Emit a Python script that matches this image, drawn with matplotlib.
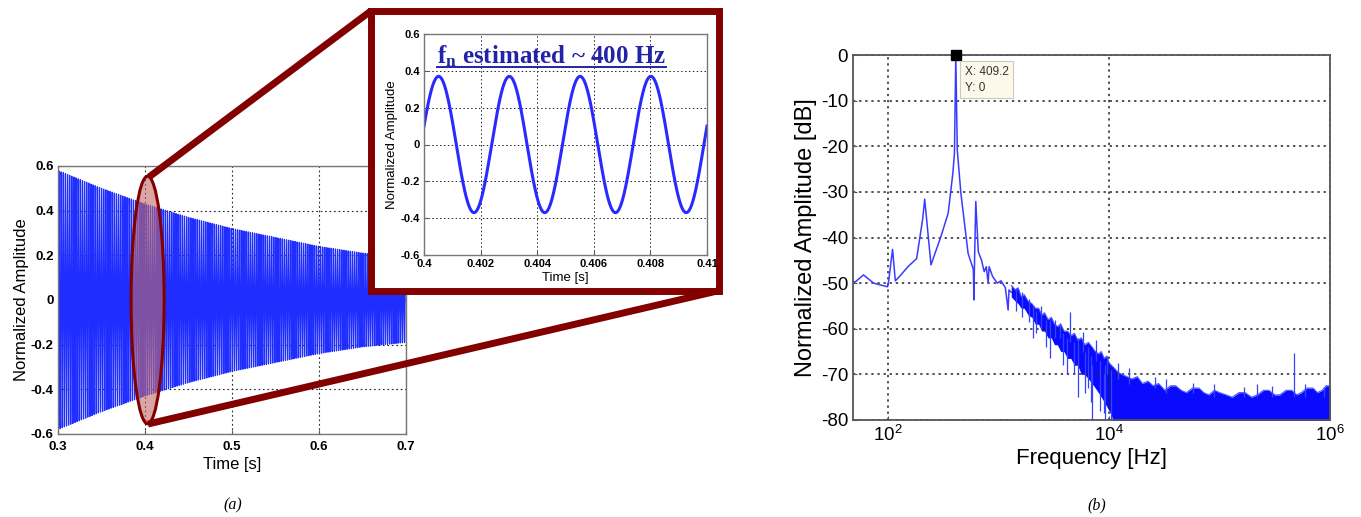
import matplotlib
matplotlib.use('agg')
import matplotlib.pyplot as plt
from matplotlib.patches import Ellipse, Rectangle
import numpy as np

plt.rcParams['font.family'] = ['Liberation Sans', 'DejaVu Sans']
plt.rcParams['mathtext.fontset'] = 'custom'
plt.rcParams['mathtext.rm'] = 'Liberation Sans'
plt.rcParams['mathtext.bf'] = 'Liberation Serif:bold'
plt.rcParams['mathtext.default'] = 'regular'
plt.rcParams['axes.unicode_minus'] = False

# ---- data ----
# (a) decaying free oscillation: envelope of the band and its frequency
env_t = [0.30, 0.35, 0.40, 0.45, 0.50, 0.55, 0.60, 0.65, 0.70]
env_amp = [0.58, 0.50, 0.43, 0.37, 0.32, 0.28, 0.24, 0.21, 0.19]
f_signal = 409.2

# inset: zoom 0.400 - 0.410 s
inset_amp = 0.37
inset_freq = 400.0
inset_start = 0.10   # value at t = 0.4, rising

# (b) spectrum, smooth low-frequency part
spec_f = [48, 50.6, 59.7, 73.8, 98.5, 101, 109.5, 116, 127, 151, 181, 205, 214, 244,
          300, 349, 385, 398, 409.2, 422, 455, 529, 590, 597, 605, 621, 654, 700, 740,
          773, 803, 820, 880, 970, 1050, 1150, 1218, 1240, 1300]
spec_db = [-49.8, -49.7, -48.2, -50, -50.8, -49.5, -42.6, -49.5, -48.5, -46.4, -44.6, -36,
           -31.6, -46, -39.8, -34.7, -25.9, -21.5, 0, -20.8, -30.3, -43.5, -47, -53.7,
           -45, -32.1, -43.1, -45, -47.5, -46.4, -50, -46.4, -48.5, -50, -49.5, -51, -55.9,
           -51.5, -52]

# noisy part: upper / lower edge of the band
band_f = [1300, 1420, 1500, 1600, 1700, 1850, 2000, 2150, 2300, 2450, 2600, 2800, 3000,
          3200, 3400, 3650, 3900, 4200, 4500, 4850, 5200, 5600, 6000, 6500, 7000, 7500,
          8000, 8500, 9000, 9500, 10000, 10500, 11000, 12000, 13000, 14500, 16000, 18000,
          20000, 22500, 25000, 28000, 32000, 36000, 40000, 45000, 50000, 57000, 65000,
          72000, 80000, 90000, 100000, 115000, 130000, 150000, 170000, 195000, 220000,
          250000, 280000, 315000, 350000, 400000, 450000, 500000, 550000, 620000,
          700000, 770000, 850000, 920000, 1000000]
band_hi = [-50.5, -51.5, -51, -53, -52.5, -54, -54.5, -55.5, -55.5, -57, -56.5, -58, -57.5,
           -59, -59.5, -59, -60.5, -60.5, -61.5, -61, -62.5, -62, -63.5, -63, -64, -65,
           -65.5, -65, -66.5, -66, -67.5, -68, -68.5, -69.5, -70, -70.5, -71, -70.5,
           -72, -71.5, -72.5, -72, -73.5, -72.5, -72.5, -73.5, -74, -73, -73, -74,
           -74.5, -73.5, -74, -74.5, -75, -74, -74, -75, -74.5, -73.5, -73.5, -74.5, -74.5,
           -73.5, -73.5, -74.5, -74, -73, -73, -74, -73.5, -72.5, -72.5]
band_lo = [-53, -54, -54.5, -55.5, -55.5, -57, -57.5, -59, -59, -60.5, -60.5, -62, -62,
           -63.5, -63.5, -65, -65, -66.5, -66.5, -68, -68, -70, -70, -71, -72, -73,
           -74, -75, -76, -77, -78, -79, -81, -81, -81, -81, -81, -81,
           -81, -81, -81, -81, -81, -81, -81, -81, -81, -81, -81, -81,
           -81, -81, -81, -81, -81, -81, -81, -81, -81, -81, -81, -81, -81,
           -81, -81, -81, -81, -81, -81, -81, -81, -81, -81]

# isolated spikes sticking out of the band: (freq, from dB, to dB)
spike_f = [1450, 1620, 1880, 2040, 2400, 2900, 3260, 3590, 4140, 4420, 5250, 5800,
           6400, 7050, 7600, 8900, 9500, 12000, 15000, 26000, 33000, 57000, 90000,
           167000, 220000, 300000, 476000, 600000, 880000, 2200, 2700, 3800, 4800,
           6100, 6900, 8200, 9200, 10300]
spike_a = [-56, -57.5, -58.5, -62, -60, -66.4, -58, -58.7, -70, -56.3, -75, -60.7,
           -73, -80, -62.5, -78.5, -66, -67.5, -68.5, -70.5, -71, -71.8, -72,
           -72.8, -72, -72.5, -65.4, -72, -73, -61, -64, -68, -70,
           -74, -76, -78, -80, -80]
spike_b = [-51, -52, -53.5, -55, -55, -58, -62, -62, -62, -63, -62, -65,
           -64, -68, -67, -70, -70, -71, -72, -73, -74, -74, -75,
           -75, -75, -75, -75, -75, -75, -56, -58, -61, -63,
           -65, -66, -67, -68, -69]

peak_f, peak_db = 409.2, 0

W, H = 1361, 517
fig = plt.figure(figsize=(W / 100, H / 100), dpi=100)
dark_red = '#820000'


def fr(x0, y0, x1, y1):
    # pixel box -> figure fraction
    return [x0 / W, 1 - y1 / H, (x1 - x0) / W, (y1 - y0) / H]


def matlab_grid(ax, lw=0.9):
    ax.grid(True, color='#222222', linestyle=(0, (1.5, 2.5)), linewidth=lw)
    ax.tick_params(direction='in', length=3, color='#555555')
    for s in ax.spines.values():
        s.set_color('#777777')
        s.set_linewidth(1.0)


# ---- (a) time signal ----
ax1 = fig.add_axes(fr(58, 166, 406, 434), zorder=1)
t = np.arange(0.3, 0.7, 1 / 24000.0)
env = np.interp(t, env_t, env_amp)
ax1.plot(t, env * np.sin(2 * np.pi * f_signal * t), color='#1f2dff', lw=0.9)
ax1.set_xlim(0.3, 0.7)
ax1.set_ylim(-0.6, 0.6)
ax1.set_xticks([0.3, 0.4, 0.5, 0.6, 0.7])
ax1.set_xticklabels(['0.3', '0.4', '0.5', '0.6', '0.7'])
ax1.set_yticks([-0.6, -0.4, -0.2, 0, 0.2, 0.4, 0.6])
ax1.set_yticklabels(['-0.6', '-0.4', '-0.2', '0', '0.2', '0.4', '0.6'])
ax1.tick_params(labelsize=9.5)
for lab in ax1.get_xticklabels() + ax1.get_yticklabels():
    lab.set_fontweight('bold')
ax1.set_xlabel('Time [s]', fontsize=12, labelpad=3)
ax1.set_ylabel('Normalized Amplitude', fontsize=12, labelpad=1)
matlab_grid(ax1, lw=0.8)
ax1.tick_params(axis='x', pad=5)
ax1.tick_params(axis='y', pad=3)
ax1.add_patch(Ellipse((0.403, 0.0), 0.038, 1.108, facecolor='#c06a6a', alpha=0.6,
                      edgecolor='none', clip_on=False, zorder=4))
ax1.add_patch(Ellipse((0.403, 0.0), 0.038, 1.108, facecolor='none',
                      edgecolor=dark_red, lw=2.2, clip_on=False, zorder=5))

# ---- zoom frame and connectors ----
ov = fig.add_axes([0, 0, 1, 1], zorder=2)
ov.set_xlim(0, W)
ov.set_ylim(H, 0)
ov.axis('off')
ov.patch.set_alpha(0)
ov.plot([149, 371.5], [177, 10.5], color=dark_red, lw=5, solid_capstyle='butt')
ov.plot([148, 719.5], [424, 290.5], color=dark_red, lw=5, solid_capstyle='butt')
ov.add_patch(Rectangle((371.5, 10.5), 348, 280, facecolor='white',
                       edgecolor=dark_red, lw=5, joinstyle='miter'))

# ---- inset ----
ax2 = fig.add_axes(fr(424, 34, 707, 255), zorder=3)
ti = np.linspace(0.4, 0.41, 2000)
phase = np.arcsin(inset_start / inset_amp)
ax2.plot(ti, inset_amp * np.sin(2 * np.pi * inset_freq * (ti - 0.4) + phase),
         color='#2a2aff', lw=2.2)
ax2.set_xlim(0.4, 0.41)
ax2.set_ylim(-0.6, 0.6)
ax2.set_xticks([0.4, 0.402, 0.404, 0.406, 0.408, 0.41])
ax2.set_xticklabels(['0.4', '0.402', '0.404', '0.406', '0.408', '0.41'])
ax2.set_yticks([-0.6, -0.4, -0.2, 0, 0.2, 0.4, 0.6])
ax2.set_yticklabels(['-0.6', '-0.4', '-0.2', '0', '0.2', '0.4', '0.6'])
ax2.tick_params(labelsize=8, pad=3)
for lab in ax2.get_xticklabels() + ax2.get_yticklabels():
    lab.set_fontweight('bold')
ax2.set_xlabel('Time [s]', fontsize=9.5, labelpad=2)
ax2.set_ylabel('Normalized Amplitude', fontsize=9.5, labelpad=2)
matlab_grid(ax2, lw=0.7)
ax2.tick_params(direction='in', length=3)
title = ax2.text(0.45, 0.9, r'$\mathbf{f_n}$ estimated ~ 400 Hz', transform=ax2.transAxes,
                 ha='center', va='center', fontsize=18, fontweight='bold',
                 family='Liberation Serif', color='#2323a8', zorder=6)

# ---- (b) spectrum ----
ax3 = fig.add_axes(fr(853, 55, 1330, 420))
ax3.set_xscale('log')
ax3.fill_between(band_f, band_lo, band_hi, color='#0a0aff', lw=0)
ax3.plot(band_f, band_hi, color='#4a55ff', lw=0.8)
ax3.vlines(spike_f, spike_a, spike_b, color='#3344ff', lw=0.9)
ax3.plot(spec_f, spec_db, color='#3b3bff', lw=1.1)
ax3.plot([peak_f], [peak_db], 's', color='black', ms=7, clip_on=False, zorder=6)
ax3.annotate('X: 409.2\nY: 0', xy=(peak_f, peak_db), xytext=(9, -11),
             textcoords='offset pixels', ha='left', va='top', fontsize=8.5, color='#333333',
             linespacing=1.4,
             bbox=dict(boxstyle='square,pad=0.4', fc='#fdf9ea', ec='#c8c8c8', lw=0.8),
             zorder=7)
ax3.set_xlim(48, 1e6)
ax3.set_ylim(-80, 0)
ax3.set_xticks([1e2, 1e4, 1e6])
ax3.minorticks_off()
ax3.set_yticks(np.arange(-80, 1, 10))
ax3.set_yticklabels([str(v) for v in range(-80, 1, 10)])
ax3.tick_params(labelsize=13.5)
ax3.set_xlabel('Frequency [Hz]', fontsize=16, labelpad=2)
ax3.set_ylabel('Normalized Amplitude [dB]', fontsize=17, labelpad=3)
matlab_grid(ax3, lw=1.1)
for s in ax3.spines.values():
    s.set_color('#555555')
    s.set_linewidth(1.3)

fig.text(233 / W, 1 - 505 / H, '(a)', fontsize=11.5, style='italic', family='Liberation Serif',
         ha='center', va='center')
fig.text(1097 / W, 1 - 505 / H, '(b)', fontsize=11.5, style='italic', family='Liberation Serif',
         ha='center', va='center')

# underline for the inset title
fig.canvas.draw()
bb = title.get_window_extent().transformed(ax2.transAxes.inverted())
ax2.plot([bb.x0, bb.x1], [bb.y0 + 0.01, bb.y0 + 0.01], color='#2323a8', lw=1.4,
         transform=ax2.transAxes, clip_on=False, zorder=6)

fig.savefig('out.png', dpi=100)
